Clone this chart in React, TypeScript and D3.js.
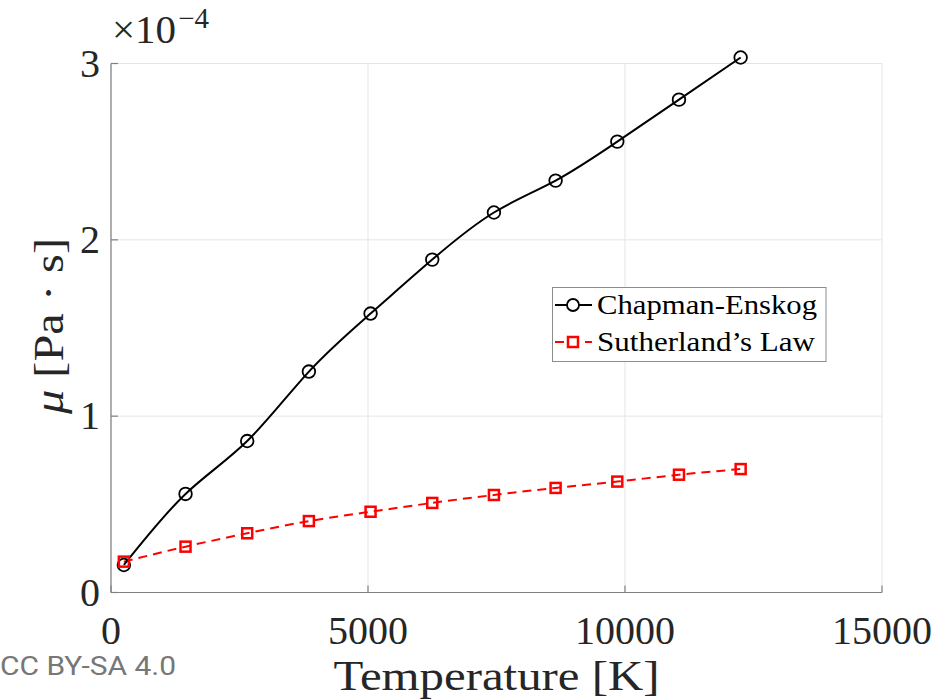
import React from "react";
import * as d3 from "d3";

const temps = [250, 1450, 2650, 3850, 5050, 6250, 7450, 8650, 9850, 11050, 12250];
const chapmanEnskog = [0.156, 0.559, 0.859, 1.253, 1.582, 1.888, 2.155, 2.336, 2.557, 2.795, 3.034];
const sutherland = [0.175, 0.26, 0.336, 0.405, 0.458, 0.508, 0.553, 0.593, 0.629, 0.668, 0.70];
const xTicks = [0, 5000, 10000, 15000];
const yTicks = [0, 1, 2, 3];
const seriesNames = ["Chapman-Enskog", "Sutherland\u2019s Law"];

const W = 950, H = 700;
const L = 111, R = 882, T = 63.5, B = 592.5;
const serif = "'Liberation Serif', 'DejaVu Serif', serif";
const txt = "#262626";

export default function App() {
  const x = d3.scaleLinear().domain([0, 15000]).range([L, R]);
  const y = d3.scaleLinear().domain([0, 3]).range([B, T]);
  const line = d3
    .line<[number, number]>()
    .x((d) => x(d[0]))
    .y((d) => y(d[1]))
    .curve(d3.curveNatural);
  const ce: [number, number][] = temps.map((t, i) => [t, chapmanEnskog[i]]);
  const su: [number, number][] = temps.map((t, i) => [t, sutherland[i]]);

  return (
    <svg width={W} height={H} style={{ position: "absolute", left: 0, top: 0, background: "#fff" }}>
      <rect x={0} y={0} width={W} height={H} fill="#fff" />
      {/* grid */}
      {xTicks.map((t) => (
        <line key={"gx" + t} x1={x(t)} x2={x(t)} y1={T} y2={B} stroke="#e5e5e5" strokeWidth={1} />
      ))}
      {yTicks.map((t) => (
        <line key={"gy" + t} x1={L} x2={R} y1={y(t)} y2={y(t)} stroke="#e5e5e5" strokeWidth={1} />
      ))}
      {/* axes */}
      <line x1={L} x2={L} y1={T} y2={B} stroke="#808080" strokeWidth={1.2} />
      <line x1={L} x2={R} y1={B} y2={B} stroke="#808080" strokeWidth={1.2} />
      {xTicks.map((t) => (
        <line key={"tx" + t} x1={x(t)} x2={x(t)} y1={B} y2={B - 7} stroke="#808080" strokeWidth={1.2} />
      ))}
      {yTicks.map((t) => (
        <line key={"ty" + t} x1={L} x2={L + 7} y1={y(t)} y2={y(t)} stroke="#808080" strokeWidth={1.2} />
      ))}
      {/* tick labels */}
      {xTicks.map((t) => (
        <text key={"lx" + t} x={x(t)} y={B + 51} textAnchor="middle" fontFamily={serif} fontSize={40} fill={txt}>
          {t}
        </text>
      ))}
      {yTicks.map((t) => (
        <text key={"ly" + t} x={L - 11} y={y(t) + 13} textAnchor="end" fontFamily={serif} fontSize={40} fill={txt}>
          {t}
        </text>
      ))}
      {/* exponent */}
      <text x={112} y={43} fontFamily={serif} fontSize={41} fill={txt}>
        {"\u00d710"}
        <tspan dx={2} dy={-15} fontSize={29}>{"\u22124"}</tspan>
      </text>
      {/* axis labels */}
      <text
        x={(L + R) / 2}
        y={690}
        textAnchor="middle"
        fontFamily={serif}
        fontSize={42}
        fill={txt}
        textLength={326}
        lengthAdjust="spacingAndGlyphs"
      >
        Temperature [K]
      </text>
      <text
        transform={`translate(63, 326) rotate(-90)`}
        textAnchor="middle"
        fontFamily={serif}
        fontSize={43}
        fill={txt}
        textLength={176}
        lengthAdjust="spacingAndGlyphs"
      >
        <tspan fontStyle="italic">{"\u03bc"}</tspan>
        {" [Pa \u00b7 s]"}
      </text>
      {/* series */}
      <path d={line(su) || ""} fill="none" stroke="#ff0000" strokeWidth={2} strokeDasharray="9,6" />
      <path d={line(ce) || ""} fill="none" stroke="#000" strokeWidth={2} />
      {ce.map((d, i) => (
        <circle key={"c" + i} cx={x(d[0])} cy={y(d[1])} r={6.3} fill="none" stroke="#000" strokeWidth={1.8} />
      ))}
      {su.map((d, i) => (
        <rect key={"s" + i} x={x(d[0]) - 5} y={y(d[1]) - 5} width={10} height={10} fill="none" stroke="#ff0000" strokeWidth={2.5} />
      ))}
      {/* legend */}
      <rect x={552.5} y={287.5} width={273.5} height={74} fill="#fff" stroke="#8c8c8c" strokeWidth={1} />
      <line x1={555} x2={592} y1={305} y2={305} stroke="#000" strokeWidth={2} />
      <circle cx={573} cy={305} r={6} fill="#fff" stroke="#000" strokeWidth={1.8} />
      <line x1={555} x2={592} y1={342} y2={342} stroke="#ff0000" strokeWidth={2} strokeDasharray="9,6" />
      <rect x={568} y={337} width={10} height={10} fill="#fff" stroke="#ff0000" strokeWidth={2.5} />
      <text x={597} y={314} fontFamily={serif} fontSize={27} fill="#000" textLength={220} lengthAdjust="spacingAndGlyphs">
        {seriesNames[0]}
      </text>
      <text x={597} y={351} fontFamily={serif} fontSize={27} fill="#000" textLength={218} lengthAdjust="spacingAndGlyphs">
        {seriesNames[1]}
      </text>
      {/* watermark */}
      <text x={0} y={675} fontFamily="Roboto, sans-serif" fontSize={25} fill="#777" textLength={176} lengthAdjust="spacingAndGlyphs">
        CC BY-SA 4.0
      </text>
    </svg>
  );
}
